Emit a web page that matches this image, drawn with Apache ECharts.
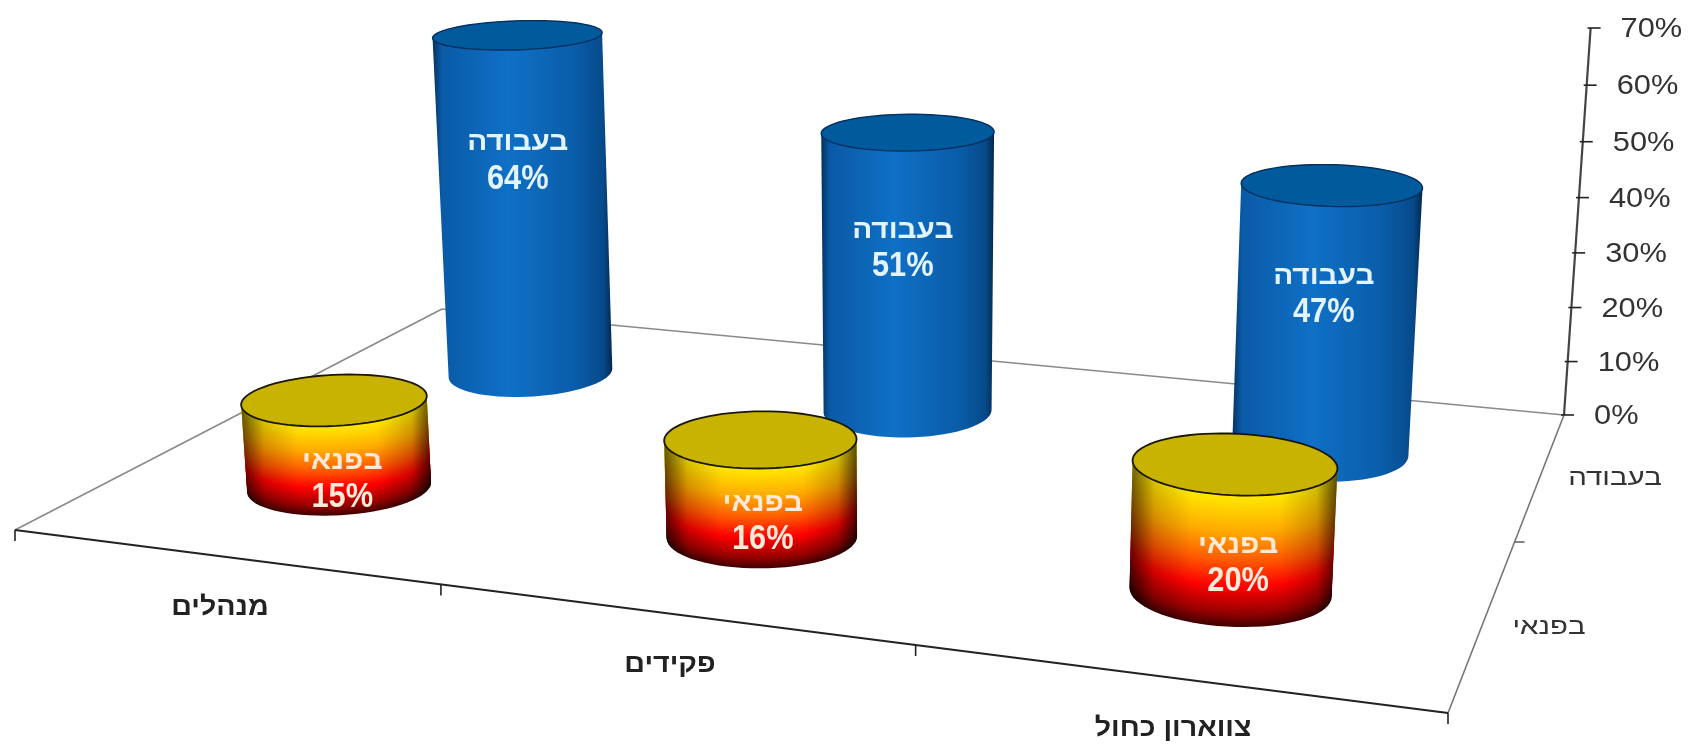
<!DOCTYPE html>
<html>
<head>
<meta charset="utf-8">
<title>תרשים</title>
<style>html,body{margin:0;padding:0;background:#fff}#chart{width:1690px;height:747px}</style>
<script src="https://cdn.jsdelivr.net/npm/echarts@6/dist/echarts.min.js"></script>
</head>
<body>
<div id="chart"></div>
<script>
// Chart content
const categories = ['מנהלים', 'פקידים', 'צווארון כחול'];
const depthLabels = ['בפנאי', 'בעבודה'];
const leisureValues = [15, 16, 20];
const workValues = [64, 51, 47];
const valueTicks = [0, 10, 20, 30, 40, 50, 60, 70];
const tickLabels = ['0%', '10%', '20%', '30%', '40%', '50%', '60%', '70%'];

// Caption placement: height in axis units, sideways nudge in pixels
const leisureCaptionLevels = [1.2, 2.4, 4.4];
const workCaptionLevels = [40.6, 30, 28];
const leisureCaptionNudge = [3, 1, 7];
const workCaptionNudge = [-5, -5, -3];

// Perspective frame: floor corners and the vanishing point of the vertical axis
const floorCorners = { fl: [15, 530], fr: [1448, 713], br: [1564, 415], bl: [442, 309] };
const axisTop = [1590, 28];
const vertical = [905, 10000];
const radiusAcross = 0.2;
const radiusDeep = [0.205, 0.23];

function makeProjection() {
  const [x0, y0] = floorCorners.fl, [x1, y1] = floorCorners.fr, [x2, y2] = floorCorners.br, [x3, y3] = floorCorners.bl;
  const dx1 = x1 - x2, dx2 = x3 - x2, sx = x0 - x1 + x2 - x3;
  const dy1 = y1 - y2, dy2 = y3 - y2, sy = y0 - y1 + y2 - y3;
  const den = dx1 * dy2 - dx2 * dy1;
  const g = (sx * dy2 - dx2 * sy) / den, h = (dx1 * sy - sx * dy1) / den;
  const a = x1 - x0 + g * x1, b = x3 - x0 + h * x3, d = y1 - y0 + g * y1, e = y3 - y0 + h * y3;
  const w0 = g + h + 1;
  const k = (axisTop[1] - y2) * w0 / (vertical[1] - axisTop[1]);
  // cell: position along the categories, row: position along the depth axis, z: share of the value axis
  return function (cell, row, z) {
    const s = cell / categories.length, t = row / depthLabels.length;
    const w = g * s + h * t + 1 + k * z;
    return [
      (a * s + b * t + x0 + k * vertical[0] * z) / w,
      (d * s + e * t + y0 + k * vertical[1] * z) / w
    ];
  };
}
const project = makeProjection();

function ring(cell, row, z) {
  const deep = radiusDeep[Math.floor(row)];
  const pts = [];
  for (let i = 0; i < 72; i++) {
    const a = i / 72 * Math.PI * 2;
    pts.push(project(cell + radiusAcross * Math.cos(a), row + deep * Math.sin(a), z));
  }
  return pts;
}

function hull(points) {
  const p = points.slice().sort((m, n) => m[0] - n[0] || m[1] - n[1]);
  const cross = (o, m, n) => (m[0] - o[0]) * (n[1] - o[1]) - (m[1] - o[1]) * (n[0] - o[0]);
  const lo = [], up = [];
  p.forEach(q => { while (lo.length > 1 && cross(lo[lo.length - 2], lo[lo.length - 1], q) <= 0) lo.pop(); lo.push(q); });
  p.slice().reverse().forEach(q => { while (up.length > 1 && cross(up[up.length - 2], up[up.length - 1], q) <= 0) up.pop(); up.push(q); });
  return lo.slice(0, -1).concat(up.slice(0, -1));
}

function toCell(api, params, value) {
  const cs = params.coordSys;
  const foot = api.coord([api.value(0), 0]);
  const head = api.coord([api.value(0), value]);
  return {
    cell: (foot[0] - cs.x) / cs.width * categories.length,
    z: (foot[1] - head[1]) / cs.height
  };
}

function lerpColor(stops, t) {
  for (let i = 1; i < stops.length; i++) {
    if (t <= stops[i][0]) {
      const [t0, c0] = stops[i - 1], [t1, c1] = stops[i];
      const f = (t - t0) / (t1 - t0);
      return 'rgb(' + c0.map((v, j) => Math.round(v + (c1[j] - v) * f)).join(',') + ')';
    }
  }
  return 'rgb(' + stops[stops.length - 1][1].join(',') + ')';
}

const LinearGradient = echarts.graphic.LinearGradient;

function caption(x, y, text, size, scaleX, fill) {
  return {
    type: 'text', x, y, scaleX, silent: true,
    style: { text, fill, font: 'bold ' + size + 'px "Liberation Sans", Arial, sans-serif', align: 'center', verticalAlign: 'middle' }
  };
}

function tickText(v) { return v + '%'; }

// Blue cylinders: side shading runs across, with a plain dark lid
function renderWork(params, api) {
  const { cell, z } = toCell(api, params, api.value(1));
  const row = 1.5;
  const bottom = ring(cell, row, 0), top = ring(cell, row, z);
  const at = project(cell, row, toCell(api, params, workCaptionLevels[params.dataIndex]).z);
  const cx = at[0] + workCaptionNudge[params.dataIndex];
  const side = new LinearGradient(0, 0, 1, 0, [
    { offset: 0, color: '#04305f' }, { offset: 0.05, color: '#0a5aa6' }, { offset: 0.42, color: '#0f70c6' },
    { offset: 0.8, color: '#0a5ca8' }, { offset: 0.95, color: '#064a8a' }, { offset: 1, color: '#03284f' }
  ]);
  return {
    type: 'group', silent: true, children: [
      { type: 'polygon', shape: { points: hull(bottom.concat(top)) }, style: { fill: side } },
      { type: 'polygon', shape: { points: top }, style: { fill: '#015a9c', stroke: '#04305f', lineWidth: 1.4 } },
      caption(cx, at[1] - 18, depthLabels[1], 27, 1.1, '#e4f4ff'),
      caption(cx, at[1] + 18, tickText(api.value(1)), 35, 0.88, '#e4f4ff')
    ]
  };
}

// Yellow-to-red cylinders: stacked discs give the curved colour bands
const warmStops = [
  [0, [70, 0, 0]], [0.1, [150, 0, 0]], [0.3, [255, 0, 0]], [0.5, [255, 90, 0]], [0.72, [255, 170, 0]], [1, [255, 235, 0]]
];
function renderLeisure(params, api) {
  const { cell, z } = toCell(api, params, api.value(1));
  const row = 0.5;
  const bottom = ring(cell, row, 0), top = ring(cell, row, z);
  const at = project(cell, row, toCell(api, params, leisureCaptionLevels[params.dataIndex]).z);
  const cx = at[0] + leisureCaptionNudge[params.dataIndex];
  const children = [];
  const slices = 70;
  for (let i = 0; i < slices; i++) {
    const t = i / slices;
    children.push({ type: 'polygon', shape: { points: ring(cell, row, z * t) }, style: { fill: lerpColor(warmStops, t) } });
  }
  children.push({
    type: 'polygon', shape: { points: hull(bottom.concat(top)) },
    style: {
      fill: new LinearGradient(0, 0, 1, 0, [
        { offset: 0, color: 'rgba(0,0,0,0.6)' }, { offset: 0.12, color: 'rgba(0,0,0,0.16)' }, { offset: 0.3, color: 'rgba(0,0,0,0)' },
        { offset: 0.72, color: 'rgba(0,0,0,0)' }, { offset: 0.9, color: 'rgba(0,0,0,0.18)' }, { offset: 1, color: 'rgba(0,0,0,0.65)' }
      ])
    }
  });
  children.push({ type: 'polygon', shape: { points: top }, style: { fill: '#c8b400', stroke: '#1a1600', lineWidth: 1.8 } });
  children.push(caption(cx, at[1] - 18, depthLabels[0], 27, 1.1, '#ffe9d8'));
  children.push(caption(cx, at[1] + 18, tickText(api.value(1)), 35, 0.88, '#ffe9d8'));
  return { type: 'group', silent: true, children };
}

// Floor outline, tick marks and axis labels
function renderFrame(params, api) {
  const cs = params.coordSys;
  const zOf = v => (api.coord([0, 0])[1] - api.coord([0, v])[1]) / cs.height;
  const line = (a, b, stroke, lineWidth) => ({
    type: 'line', shape: { x1: a[0], y1: a[1], x2: b[0], y2: b[1] }, style: { stroke, lineWidth }
  });
  const nCat = categories.length, nDepth = depthLabels.length;
  const children = [
    line(project(0, nDepth, 0), project(nCat, nDepth, 0), '#8a8a8a', 1.6),
    line(project(0, 0, 0), project(0, nDepth, 0), '#8a8a8a', 1.6),
    line(project(nCat, 0, 0), project(nCat, nDepth, 0), '#777', 1.6),
    line(project(0, 0, 0), project(nCat, 0, 0), '#222', 2.2),
    line(project(nCat, nDepth, 0), project(nCat, nDepth, 1), '#444', 2.2)
  ];
  for (let i = 0; i <= nCat; i++) {
    const p = project(i, 0, 0);
    children.push(line(p, [p[0], p[1] + 11], '#222', 1.6));
  }
  for (let j = 1; j < nDepth; j++) {
    const p = project(nCat, j, 0);
    children.push(line(p, [p[0] + 10, p[1]], '#666', 1.6));
  }
  valueTicks.forEach((v, i) => {
    const p = project(nCat, nDepth, zOf(v));
    children.push(line([p[0] - 3, p[1]], [p[0] + 10, p[1]], '#222', 1.6));
    children.push({
      type: 'text', x: p[0] + 30, y: p[1] + 1.5, scaleX: 1.1,
      style: { text: tickLabels[i], fill: '#333', font: '28px "Liberation Sans", Arial, sans-serif', align: 'left', verticalAlign: 'middle' }
    });
  });
  const catLabelPos = [[220, 608], [670, 665], [1173, 729]];
  categories.forEach((c, i) => {
    children.push({
      type: 'text', x: catLabelPos[i][0], y: catLabelPos[i][1], scaleX: 1.1,
      style: { text: c, fill: '#222', font: 'bold 26px "Liberation Sans", Arial, sans-serif', align: 'center', verticalAlign: 'middle' }
    });
  });
  const depthLabelPos = [[1549, 628], [1615, 479]];
  depthLabels.forEach((c, i) => {
    children.push({
      type: 'text', x: depthLabelPos[i][0], y: depthLabelPos[i][1], scaleX: 1.28,
      style: { text: c, fill: '#333', font: '23px "Liberation Sans", Arial, sans-serif', align: 'center', verticalAlign: 'middle' }
    });
  });
  return { type: 'group', silent: true, children };
}

const chart = echarts.init(document.getElementById('chart'));
chart.setOption({
  animation: false,
  backgroundColor: '#ffffff',
  tooltip: { show: false },
  grid: { left: 0, right: 0, top: 0, bottom: 0 },
  xAxis: { type: 'category', data: categories, show: false },
  yAxis: { type: 'value', min: 0, max: 70, interval: 10, show: false },
  series: [
    { type: 'custom', name: 'frame', coordinateSystem: 'cartesian2d', clip: false, silent: true, data: [[0, 0]], encode: { x: 0, y: 1 }, renderItem: renderFrame, z: 1 },
    { type: 'custom', name: depthLabels[1], coordinateSystem: 'cartesian2d', clip: false, silent: true, data: workValues.map((v, i) => [i, v]), encode: { x: 0, y: 1 }, renderItem: renderWork, z: 2 },
    { type: 'custom', name: depthLabels[0], coordinateSystem: 'cartesian2d', clip: false, silent: true, data: leisureValues.map((v, i) => [i, v]), encode: { x: 0, y: 1 }, renderItem: renderLeisure, z: 3 }
  ]
});
</script>
</body>
</html>
